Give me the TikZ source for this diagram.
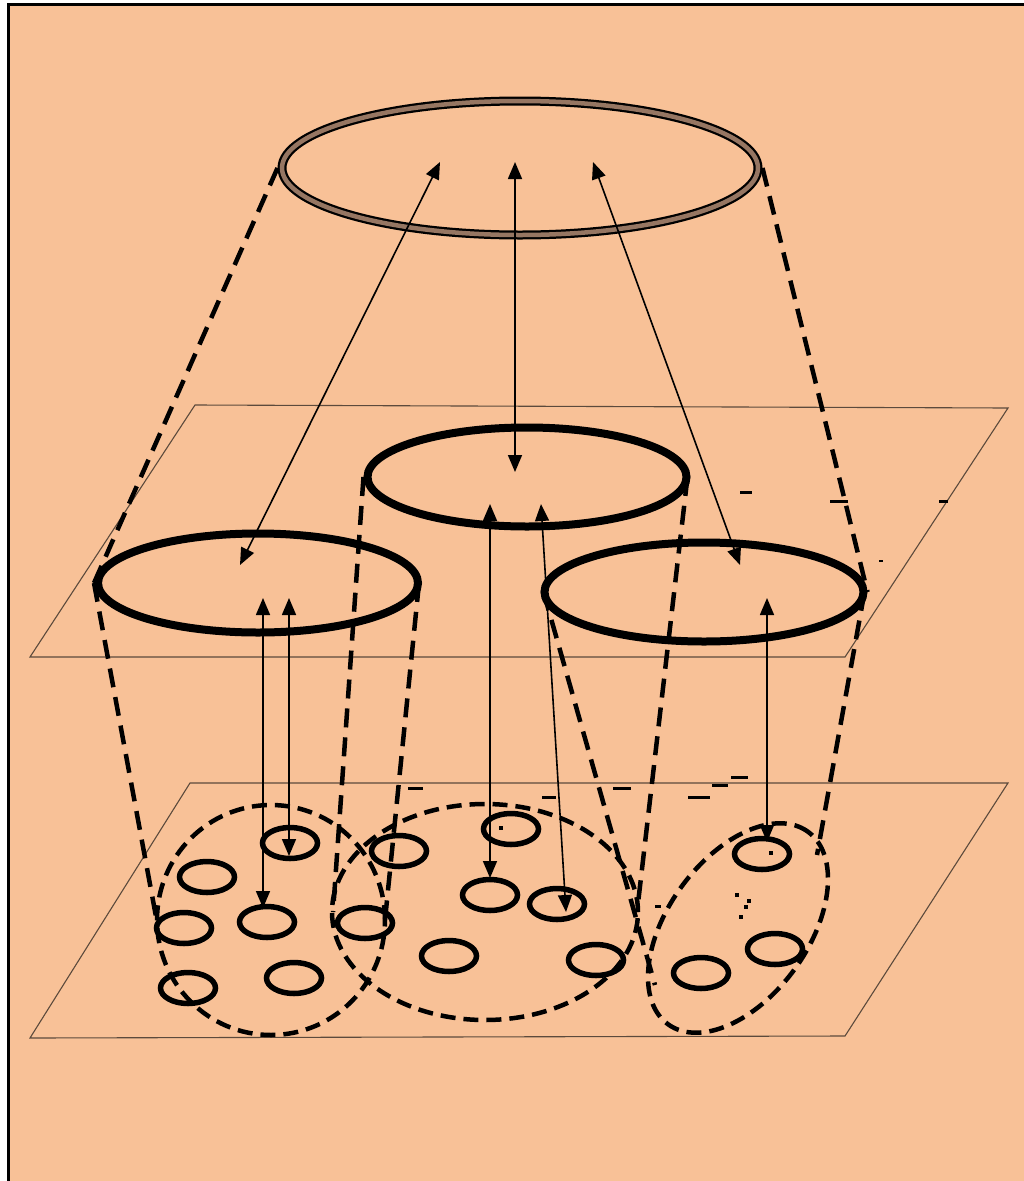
\documentclass[tikz,border=0pt]{standalone}
\usetikzlibrary{arrows.meta,shapes.geometric}
\definecolor{paper}{RGB}{248,193,151}
\definecolor{planeline}{RGB}{92,74,60}
\definecolor{ringfill}{RGB}{150,118,98}
\tikzset{
  plane/.style={draw=planeline,line width=1.1pt},
  ring/.style={ellipse,draw,line width=8pt,inner sep=0pt},
  cell/.style={ellipse,draw,line width=5.5pt,inner sep=0pt,minimum width=55pt,minimum height=31pt},
  cluster/.style={ellipse,draw,line width=4.5pt,inner sep=0pt,dash pattern=on 15pt off 8pt},
  link/.style={line width=4.5pt,dash pattern=on 19pt off 10pt},
  duo/.style={line width=1.6pt,{Triangle[length=17pt,width=14pt]}-{Triangle[length=17pt,width=14pt]}},
  speck/.style={line width=3pt}
}
\begin{document}
\begin{tikzpicture}[x=1pt,y=-1pt]
\useasboundingbox (0,0) rectangle (1024,1181);
% sheet
\fill[paper] (8,4) rectangle (1024,1181);
\draw[line width=3pt] (8,1181) -- (8,4) -- (1024,4);

% two planes
\draw[plane] (30,657) -- (195,405) -- (1008,408) -- (845,657) -- cycle;
\draw[plane] (30,1038) -- (190,783) -- (1008,783) -- (845,1036) -- cycle;

% top ring
\node[ellipse,draw,line width=9pt,inner sep=0pt,minimum width=476pt,minimum height=134pt] (top) at (520,168) {};
\node[ellipse,draw=ringfill,line width=4.5pt,inner sep=0pt,minimum width=476pt,minimum height=134pt] at (520,168) {};

% middle rings
\node[ring,minimum width=320pt,minimum height=99pt] (ml) at (258,583) {};
\node[ring,minimum width=319pt,minimum height=99pt] (mc) at (527,477) {};
\node[ring,minimum width=319pt,minimum height=99pt] (mr) at (704,592) {};

% bottom clusters
\node[cluster,minimum width=228pt,minimum height=230pt] (bl) at (271,920) {};
\node[cluster,minimum width=306pt,minimum height=216pt] (bc) at (485,912) {};
\node[cluster,rotate=54,minimum width=238pt,minimum height=140pt] (br) at (738,928) {};

% cells of the left cluster
\node[cell] (l1) at (290,843) {};
\node[cell] (l2) at (207,877) {};
\node[cell] (l3) at (184,928) {};
\node[cell] (l4) at (267,922) {};
\node[cell] (l5) at (188,988) {};
\node[cell] (l6) at (294,978) {};
% cells of the centre cluster
\node[cell] (c1) at (511,829) {};
\node[cell] (c2) at (399,851) {};
\node[cell] (c3) at (365,923) {};
\node[cell] (c4) at (490,895) {};
\node[cell] (c5) at (557,904) {};
\node[cell] (c6) at (449,956) {};
\node[cell] (c7) at (596,960) {};
% cells of the right cluster
\node[cell] (r1) at (762,854) {};
\node[cell] (r2) at (775,949) {};
\node[cell] (r3) at (701,973) {};

% dashed outlines joining the levels
\draw[link] (top.west) -- (ml.west);
\draw[link] (top.east) -- (mr.east);
\coordinate (blw) at (157,922);
\coordinate (ble) at (385,920);
\coordinate (bcw) at (333,912);
\coordinate (bce) at (637,912);
\coordinate (brw) at (655,985);
\coordinate (bre) at (817,855);
\draw[link] (ml.west) -- (blw);
\draw[link] ([xshift=-3pt]ml.east) -- (ble);
\draw[link] (mc.west) -- (bcw);
\draw[link] ([xshift=-3pt]mc.east) -- (bce);
\draw[link] ([xshift=3pt]mr.west) -- (brw);
\draw[link] ([xshift=-3pt]mr.east) -- (bre);

% two-way arrows, top to middle
\coordinate (a1t) at (440,162); \coordinate (a1b) at (240,565);
\coordinate (a2t) at (515,162); \coordinate (a2b) at (515,472);
\coordinate (a3t) at (593,162); \coordinate (a3b) at (740,565);
\draw[duo] (a1t) -- (a1b);
\draw[duo] (a2t) -- (a2b);
\draw[duo] (a3t) -- (a3b);

% two-way arrows, middle to bottom
\coordinate (p1t) at (263,598); \coordinate (p1b) at (263,908);
\coordinate (p2t) at (289,598); \coordinate (p2b) at (289,856);
\coordinate (q1t) at (490,504); \coordinate (q1b) at (490,878);
\coordinate (q2t) at (541,504); \coordinate (q2b) at (566,912);
\coordinate (s1t) at (767,598); \coordinate (s1b) at (767,842);
\draw[duo] (p1t) -- (p1b);
\draw[duo] (p2t) -- (p2b);
\draw[duo] (q1t) -- (q1b);
\draw[duo] (q2t) -- (q2b);
\draw[duo] (s1t) -- (s1b);

% small stray marks
\draw[speck] (740,492) -- (752,492);
\draw[speck] (830,501) -- (848,501);
\draw[speck] (939,501) -- (948,501);
\draw[line width=2pt] (879,561) -- (883,561);
\draw[speck] (408,788) -- (423,788);
\draw[speck] (542,797) -- (556,797);
\draw[speck] (613,788) -- (631,788);
\draw[speck] (688,797) -- (710,797);
\draw[speck] (712,785) -- (728,785);
\draw[speck] (731,777) -- (748,777);
\fill (499,826) rectangle (503,830);
\fill (769,851) rectangle (773,855);
\fill (735,893) rectangle (739,897);
\fill (747,899) rectangle (751,903);
\fill (744,905) rectangle (748,909);
\fill (739,915) rectangle (743,919);
\draw[speck] (655,906) -- (661,906);
\end{tikzpicture}
\end{document}
